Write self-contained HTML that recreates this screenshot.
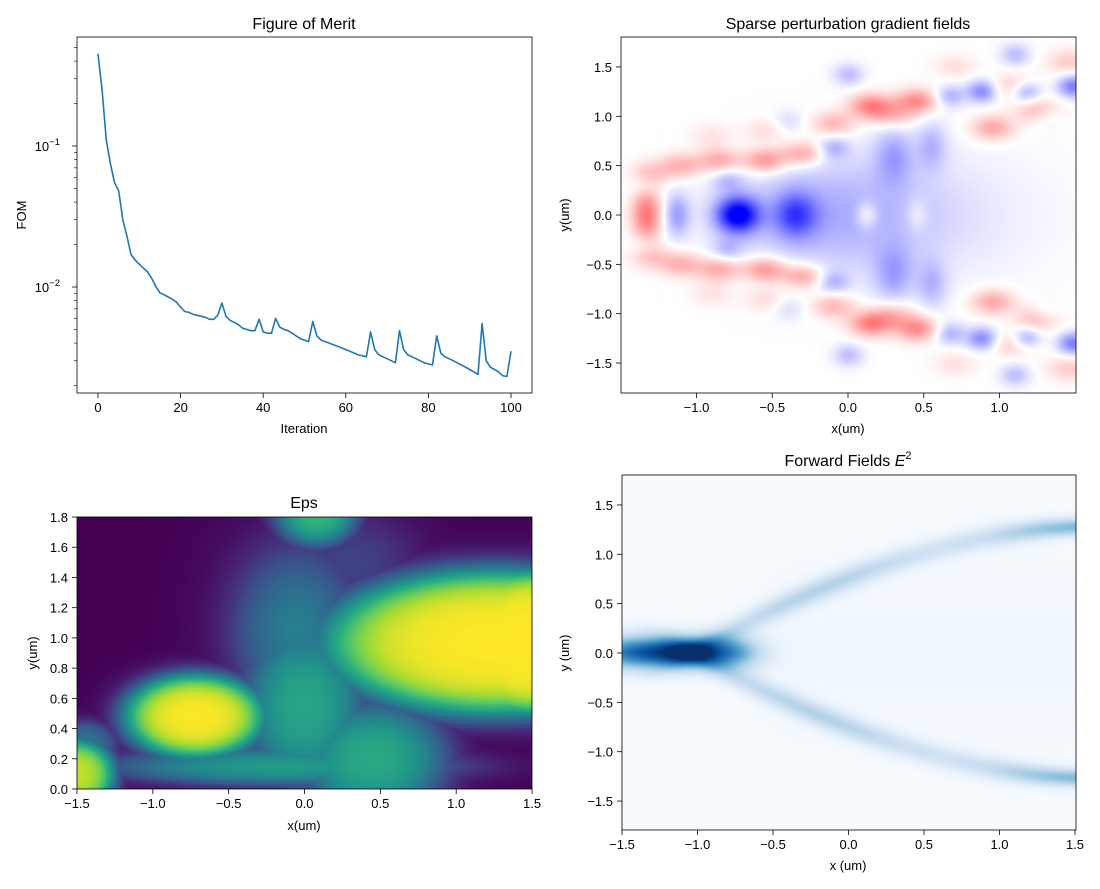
<!DOCTYPE html>
<html><head><meta charset="utf-8">
<style>
html,body{margin:0;padding:0;background:#fff;}
#wrap{position:relative;width:1100px;height:889px;overflow:hidden;}
canvas{position:absolute;}
svg{position:absolute;left:0;top:0;}
text{font-family:"Liberation Sans","DejaVu Sans",sans-serif;fill:#000;}
</style></head><body>
<div id="wrap">
<canvas id="c2" width="455" height="356" style="left:621px;top:37px"></canvas>
<canvas id="c3" width="455" height="272" style="left:77px;top:517px"></canvas>
<canvas id="c4" width="454" height="355" style="left:622px;top:475px"></canvas>
<svg id="s" width="1100" height="889" xmlns="http://www.w3.org/2000/svg"></svg>
</div>
<script>
const S=document.getElementById('s');let out='';
function T(x,y,t,anchor,size,extra){out+=`<text x="${x}" y="${y}" font-size="${size||13}" text-anchor="${anchor||'middle'}" ${extra||''}>${t}</text>`;}
function L(x1,y1,x2,y2,w){out+=`<line x1="${x1}" y1="${y1}" x2="${x2}" y2="${y2}" stroke="#000" stroke-width="${w||0.8}"/>`;}
function box(x0,y0,x1,y1){out+=`<rect x="${x0}" y="${y0}" width="${x1-x0}" height="${y1-y0}" fill="none" stroke="#000" stroke-width="0.8"/>`;}
const m='\u2212';
function fmt(v,d){let s=Math.abs(v).toFixed(d);return (v<-1e-9?m:'')+s;}

const ax={x0:77,x1:532,y0:37,y1:393};
const fx=v=>98+v*4.13;
const fy=v=>146-(Math.log10(v)+1)*141;
const d=[0.45,0.25,0.11,0.075,0.055,0.048,0.030,0.023,0.017,0.0155,0.0145,0.0136,0.0128,0.0115,0.0101,0.0091,0.0088,0.0085,0.0082,0.0078,0.0072,0.0067,0.0066,0.0064,0.0063,0.0062,0.0061,0.0059,0.0059,0.0063,0.0077,0.0062,0.0058,0.0056,0.0054,0.0051,0.0050,0.0049,0.0049,0.0059,0.0048,0.0047,0.0047,0.0060,0.0052,0.0050,0.0049,0.0047,0.0045,0.0043,0.0042,0.0041,0.0057,0.0045,0.0042,0.0041,0.0040,0.0039,0.0038,0.0037,0.0036,0.0035,0.0034,0.0033,0.00325,0.0032,0.0048,0.0036,0.0033,0.0032,0.0031,0.0030,0.0029,0.0049,0.0036,0.0033,0.0032,0.0031,0.0030,0.0029,0.00285,0.0028,0.0045,0.0034,0.0032,0.0031,0.0030,0.0029,0.0028,0.0027,0.0026,0.0025,0.0024,0.0055,0.0030,0.0027,0.0026,0.0025,0.0023,0.0023,0.0035];
d[99]=0.00232;d[98]=0.00235;
let pts=d.map((v,i)=>fx(i).toFixed(1)+','+fy(v).toFixed(1)).join(' ');
out+=`<polyline points="${pts}" fill="none" stroke="#1f77b4" stroke-width="1.6" stroke-linejoin="round"/>`;
box(ax.x0,ax.y0,ax.x1,ax.y1);
for(let v=0;v<=100;v+=20){L(fx(v),393,fx(v),398);T(fx(v),412,v);}
[[0.1,'10',-1],[0.01,'10',-2]].forEach(([v,b,e])=>{const y=fy(v);L(72,y,77,y);out+=`<text x="60" y="${y+5}" font-size="13" text-anchor="end">10<tspan dy="-6" font-size="9.5">${m}${-e}</tspan></text>`;});
for(const dec of [0.001,0.01,0.1]){for(let k=2;k<=9;k++){const v=dec*k;const y=fy(v);if(y>ax.y0&&y<ax.y1)L(74,y,77,y,0.6);}}
T(304,29,'Figure of Merit','middle',16);
T(304,433,'Iteration');
T(26,215,'FOM','middle',13,'transform="rotate(-90 26 215)"');

box(621,37,1076,393);
for(const v of [-1,-0.5,0,0.5,1]){const x=848+v*151.5;L(x,393,x,398);T(x,412,fmt(v,1));}
for(const v of [-1.5,-1,-0.5,0,0.5,1,1.5]){const y=215-v*98.7;L(616,y,621,y);T(612,y+5,fmt(v,1),'end');}
T(848,29,'Sparse perturbation gradient fields','middle',16);
T(848,433,'x(um)');
T(569,215,'y(um)','middle',13,'transform="rotate(-90 569 215)"');

box(77,517,532,789);
for(const v of [-1.5,-1,-0.5,0,0.5,1,1.5]){const x=304.5+v*151.7;L(x,789,x,794);T(x,808,fmt(v,1));}
for(let v=0;v<=1.8001;v+=0.2){const y=789-v*151.1;L(72,y,77,y);T(68,y+5,v.toFixed(1),'end');}
T(304,508,'Eps','middle',16);
T(304,830,'x(um)');
T(37,653,'y(um)','middle',13,'transform="rotate(-90 37 653)"');

box(622,475,1076,830);
for(const v of [-1.5,-1,-0.5,0,0.5,1,1.5]){const x=848.5+v*151;L(x,830,x,835);T(x,849,fmt(v,1));}
for(const v of [-1.5,-1,-0.5,0,0.5,1,1.5]){const y=653-v*98.7;L(617,y,622,y);T(613,y+5,fmt(v,1),'end');}
out+=`<text x="848" y="466" font-size="16" text-anchor="middle">Forward Fields <tspan font-style="italic">E</tspan><tspan dy="-7" font-size="11">2</tspan></text>`;
T(848,870,'x (um)');
T(569,653,'y (um)','middle',13,'transform="rotate(-90 569 653)"');
S.innerHTML=out;

function g(x,y,cx,cy,sx,sy,a){const dx=(x-cx)/sx,dy=(y-cy)/sy;return a*Math.exp(-(dx*dx+dy*dy)/2);}
function le(x,y,cx,cy,sx,sy,a,k){const dx=(x-cx)/sx,dy=(y-cy)/sy;const r=Math.sqrt(dx*dx+dy*dy);return a/(1+Math.exp(k*(r-1)));}
function paint(id,W,H,xr,yr,fn){const c=document.getElementById(id).getContext('2d');const im=c.createImageData(W,H);
for(let j=0;j<H;j++){const y=yr[1]-(j+0.5)/H*(yr[1]-yr[0]);for(let i=0;i<W;i++){const x=xr[0]+(i+0.5)/W*(xr[1]-xr[0]);const col=fn(x,y);const k=(j*W+i)*4;im.data[k]=col[0];im.data[k+1]=col[1];im.data[k+2]=col[2];im.data[k+3]=255;}}
c.putImageData(im,0,0);}
function lerpMap(stops,v){v=Math.max(0,Math.min(1,v));for(let i=1;i<stops.length;i++){if(v<=stops[i][0]){const a=stops[i-1],b=stops[i];const t=(v-a[0])/(b[0]-a[0]);return [0,1,2].map(k=>a[1][k]+(b[1][k]-a[1][k])*t);}}return stops[stops.length-1][1];}
const vir=[[0,[68,1,84]],[0.125,[71,39,119]],[0.25,[59,82,139]],[0.375,[44,114,142]],[0.5,[33,145,140]],[0.625,[40,174,128]],[0.75,[94,201,98]],[0.875,[170,220,50]],[1,[253,231,37]]];
paint('c3',455,272,[-1.5,1.5],[0,1.8],(x,y)=>{
 let v=Math.max(
  le(x,y,1.25,0.97,1.1,0.47,1.0,7),
  le(x,y,1.5,0.97,0.6,0.47,1.0,9),
  le(x,y,-0.72,0.48,0.45,0.27,1.0,6),
  le(x,y,-1.5,0.1,0.24,0.22,0.92,5),
  le(x,y,-0.15,0.15,1.05,0.12,0.55,4),
  le(x,y,0.0,0.55,0.38,0.5,0.6,4),
  le(x,y,0.45,0.2,0.45,0.35,0.62,4),
  le(x,y,0.08,1.82,0.25,0.2,0.68,4),
  le(x,y,-0.05,1.05,0.38,0.5,0.45,3),
  le(x,y,-1.45,0.3,0.2,0.14,0.4,4),
  le(x,y,0.3,1.5,0.4,0.3,0.22,3));
 return lerpMap(vir,v);});
const blues=[[0,[247,251,255]],[0.125,[222,235,247]],[0.25,[198,219,239]],[0.375,[158,202,225]],[0.5,[107,174,214]],[0.625,[66,146,198]],[0.75,[33,113,181]],[0.875,[8,81,156]],[1,[8,48,107]]];
paint('c4',454,355,[-1.5,1.5],[-1.8,1.8],(x,y)=>{
 let v=g(x,y,-1.05,0,0.22,0.11,0.85)+g(x,y,-1.45,0,0.22,0.12,0.6)+g(x,y,-0.75,0,0.13,0.13,0.3);
 const t=Math.max(0,(1.5-x)/2.35);const ay=1.27-1.1*Math.pow(t,1.7);
 const amp=0.24+0.16*Math.max(0,(x-0.9)/0.6)+0.05*Math.cos((x+0.2)*4);
 const fade=x<-0.9?Math.exp(-Math.pow((x+0.9)/0.3,2)):1;
 const w=0.12-0.03*Math.max(0,(x-0.8)/0.7);
 v+=amp*fade*(Math.exp(-Math.pow((y-ay)/w,2))+Math.exp(-Math.pow((y+ay)/w,2)));
 v+=0.04*Math.exp(-Math.pow(y/0.9,2))/(1+Math.exp(-(x+0.6)*8));
 return lerpMap(blues,v);});
paint('c2',455,356,[-1.5,1.5],[-1.8,1.8],(x,y)=>{
 const ay=Math.abs(y);
 let v=0;
 v+=g(x,y,-1.33,0,0.07,0.2,0.55);
 v-=g(x,y,-1.13,0,0.06,0.15,0.35);
 v-=g(x,y,-0.73,0,0.1,0.13,1.0);
 v-=g(x,y,-0.35,0,0.1,0.16,0.55);
 v-=g(x,y,-0.1,0,0.5,0.4,0.28);
 v-=g(x,y,0.5,0,0.6,0.5,0.08);
 v+=g(x,y,0.12,0,0.05,0.1,0.25);
 v+=g(x,y,0.45,0,0.05,0.12,0.15);
 v-=g(x,ay,0.3,0.6,0.09,0.2,0.3);
 v-=g(x,ay,0.55,0.7,0.07,0.17,0.25);
 for(const [cx,cy,a] of [[-1.1,0.5,0.3],[-0.85,0.55,0.35],[-0.55,0.55,0.45],[-0.3,0.62,0.38],[-0.55,0.85,0.15],[-0.9,0.8,0.12],[0.15,1.1,0.5],[-0.1,0.92,0.3],[0.45,1.15,0.45],[0.95,0.88,0.35],[1.25,1.05,0.3],[1.1,1.3,0.25],[1.45,1.55,0.2],[-1.3,0.42,0.2],[0.3,1.0,0.25],[0.7,1.5,0.12]]) v+=g(x,ay,cx,cy,0.1,0.09,a);
 for(const [cx,cy,a] of [[0.67,1.2,0.3],[0.88,1.25,0.45],[1.17,1.25,0.4],[1.48,1.3,0.5],[0.0,1.42,0.25],[-0.1,0.68,0.25],[-0.4,0.95,0.12],[-0.8,0.35,0.2],[1.3,1.0,0.15],[1.1,1.62,0.25],[-1.35,0.3,0.12]]) v-=g(x,ay,cx,cy,0.07,0.08,a);
 v=Math.max(-1,Math.min(1,v));
 if(v<0){const w=1+v;return [255*w,255*w,255];}const w=1-v;return [255,255*w,255*w];});
</script>
</body></html>
